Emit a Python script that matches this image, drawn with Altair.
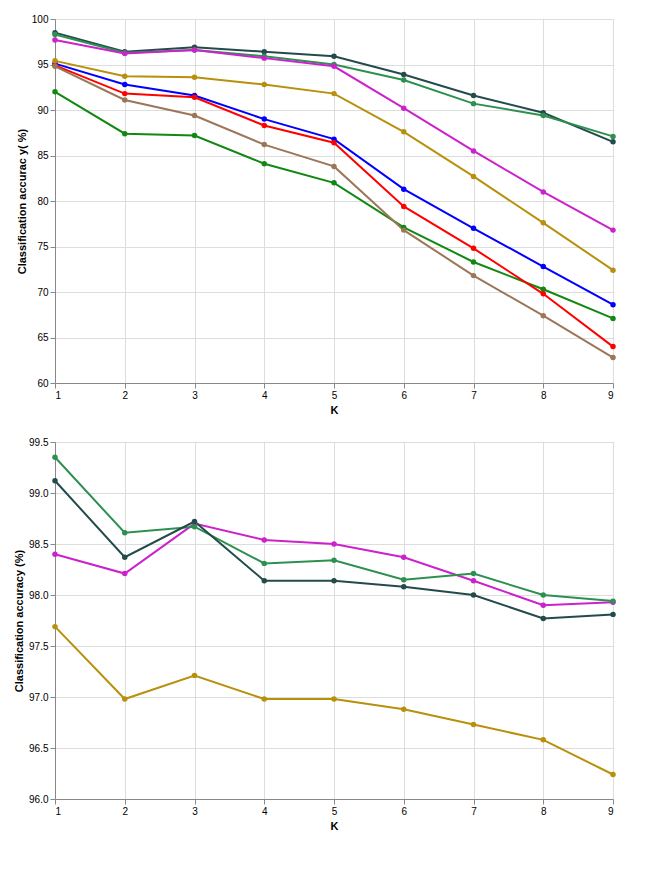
import altair as alt
import pandas as pd

K = [1, 2, 3, 4, 5, 6, 7, 8, 9]

A_NAMES = ["CKNNC-Blue", "CKNNC-Green", "CKNNC-Red", "CKNNC-Near infrared",
           "Our method-Blue", "Our method-Green", "Our method-Red", "Our method-Near infrared"]
A_CKNNC_BLUE = [95.1, 92.8, 91.6, 89.0, 86.8, 81.3, 77.0, 72.8, 68.6]
A_CKNNC_GREEN = [92.0, 87.4, 87.2, 84.1, 82.0, 77.1, 73.3, 70.3, 67.1]
A_CKNNC_RED = [94.9, 91.8, 91.4, 88.3, 86.4, 79.4, 74.8, 69.8, 64.0]
A_CKNNC_NIR = [94.8, 91.1, 89.4, 86.2, 83.8, 76.8, 71.8, 67.4, 62.8]
A_OUR_BLUE = [98.5, 96.4, 96.9, 96.4, 95.9, 93.9, 91.6, 89.7, 86.5]
A_OUR_GREEN = [98.3, 96.3, 96.6, 95.9, 95.0, 93.3, 90.7, 89.4, 87.1]
A_OUR_RED = [97.7, 96.2, 96.6, 95.7, 94.8, 90.2, 85.5, 81.0, 76.8]
A_OUR_NIR = [95.4, 93.7, 93.6, 92.8, 91.8, 87.6, 82.7, 77.6, 72.4]
A_VALUES = [A_CKNNC_BLUE, A_CKNNC_GREEN, A_CKNNC_RED, A_CKNNC_NIR,
            A_OUR_BLUE, A_OUR_GREEN, A_OUR_RED, A_OUR_NIR]
A_YTICKS = [60, 65, 70, 75, 80, 85, 90, 95, 100]
A_COLORS = ["#0000ff", "#118811", "#ff0000", "#9c7658",
            "#234b4b", "#2e9050", "#cc22cc", "#b8900c"]

B_NAMES = ["Our method-Red", "Our method-Green", "Our method-Blue", "Our method-Near infrared"]
B_RED = [98.40, 98.21, 98.70, 98.54, 98.50, 98.37, 98.14, 97.90, 97.93]
B_GREEN = [99.35, 98.61, 98.67, 98.31, 98.34, 98.15, 98.21, 98.00, 97.94]
B_BLUE = [99.12, 98.37, 98.72, 98.14, 98.14, 98.08, 98.00, 97.77, 97.81]
B_NIR = [97.69, 96.98, 97.21, 96.98, 96.98, 96.88, 96.73, 96.58, 96.24]
B_VALUES = [B_RED, B_GREEN, B_BLUE, B_NIR]
B_YTICKS = [96, 96.5, 97, 97.5, 98, 98.5, 99, 99.5]
B_COLORS = ["#ff3cff", "#2f9f2f", "#7474b4", "#cccc2a"]


def long_df(names, values):
    rows = []
    for n, vals in zip(names, values):
        for k, v in zip(K, vals):
            rows.append({"series": n, "K": k, "acc": v})
    return pd.DataFrame(rows)


def panel(names, values, colors, yticks, ydom, w, h, ytitle):
    df = long_df(names, values)
    x = alt.X("K:Q", scale=alt.Scale(domain=[1, 9], nice=False, zero=False),
              axis=alt.Axis(values=K, title="K"))
    y = alt.Y("acc:Q", scale=alt.Scale(domain=ydom, nice=False, zero=False),
              axis=alt.Axis(values=yticks, title=ytitle))
    color = alt.Color("series:N", scale=alt.Scale(domain=names, range=colors), legend=None)
    return alt.Chart(df).mark_line(point=True).encode(x=x, y=y, color=color).properties(width=w, height=h)


chartA = panel(A_NAMES, A_VALUES, A_COLORS, A_YTICKS, [60, 100], 558, 364, "Classification accurac y( %)")
chartB = panel(B_NAMES, B_VALUES, B_COLORS, B_YTICKS, [96, 99.5], 558, 357, "Classification accuracy (%)")

chart = alt.vconcat(chartA, chartB, spacing=20)
chart.save("out.html", embed_options={"renderer": "svg", "actions": False})
